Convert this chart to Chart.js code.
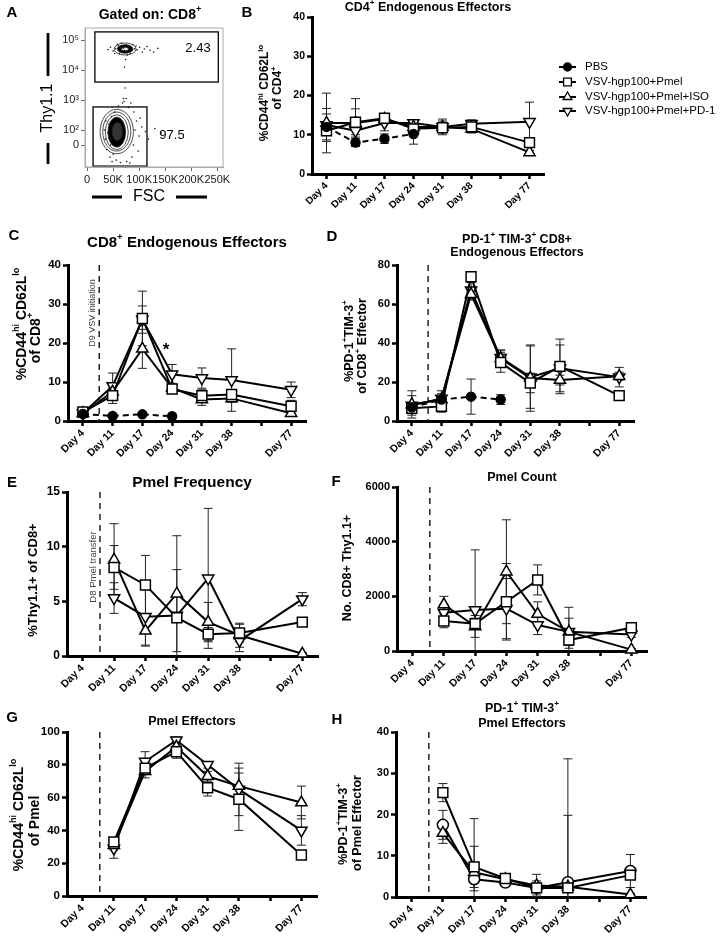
<!DOCTYPE html>
<html>
<head>
<meta charset="utf-8">
<script src="https://cdn.jsdelivr.net/npm/chart.js@4.4.1/dist/chart.umd.min.js"></script>
<style>
  body { margin: 0; background: #fff; }
  #wrap { position: relative; width: 725px; height: 940px; }
  canvas { position: absolute; left: 0; top: 0; }
</style>
</head>
<body>
<div id="wrap">
  <canvas id="cA" width="725" height="940"></canvas>
  <canvas id="cB" width="725" height="940"></canvas>
  <canvas id="cC" width="725" height="940"></canvas>
  <canvas id="cD" width="725" height="940"></canvas>
  <canvas id="cE" width="725" height="940"></canvas>
  <canvas id="cF" width="725" height="940"></canvas>
  <canvas id="cG" width="725" height="940"></canvas>
  <canvas id="cH" width="725" height="940"></canvas>
</div>
<script>
// ---- data ----
// x categories (the blank slot is the unlabeled tick between Day 38 and Day 77)
const axisLabels = ['Day 4', 'Day 11', 'Day 17', 'Day 24', 'Day 31', 'Day 38', '', 'Day 77'];
const days = ['Day 4', 'Day 11', 'Day 17', 'Day 24', 'Day 31', 'Day 38', 'Day 77'];
const legendNames = ['PBS', 'VSV-hgp100+Pmel', 'VSV-hgp100+Pmel+ISO', 'VSV-hgp100+Pmel+PD-1'];

// B: CD4+ endogenous effectors
const bPBS = [12, 8, 9, 10.2],                 bPBSErr = [3.3, 1, 1.2, 2.6];
const bPmel = [11, 13.2, 14.2, 11.5, 11.8, 12, 8],   bPmelErr = [1.2, 6, 0.8, 1, 1, 1.5, 1];
const bISO = [13, 13, 14, 12, 12, 11.5, 5.5],        bISOErr = [7.6, 3.6, 1, 1, 2, 1, 0.5];
const bPD1 = [12.5, 11, 13, 13, 12, 12.8, 13.3],     bPD1Err = [4.2, 1, 2, 0.8, 1.5, 1, 5];

// C: CD8+ endogenous effectors
const cPBS = [1.8, 1.3, 1.7, 1.2],                   cPBSErr = [0.3, 0.2, 0.3, 0.2];
const cPmel = [2.3, 6.5, 26.3, 8.2, 6.5, 6.8, 3.8],  cPmelErr = [0.8, 2, 7, 1, 1.5, 1, 1.5];
const cISO = [2.0, 7.5, 18.5, 8.5, 5.5, 5.8, 2.0],   cISOErr = [0.5, 1.5, 5, 1, 1.5, 1, 0.5];
const cPD1 = [2.0, 9.0, 26.0, 12.0, 11.0, 10.5, 8.0], cPD1Err = [0.5, 3.3, 3.5, 2.5, 2.6, 8, 2];

// D: PD-1+ TIM-3+ CD8+ endogenous effectors
const dPBS = [7, 11, 12.5, 11],                      dPBSErr = [2, 1.5, 9, 2.5];
const dPmel = [6.5, 7.5, 74, 30, 19.5, 28, 13],      dPmelErr = [1.5, 3, 2, 5, 5, 14, 1];
const dISO = [8.5, 11, 65, 32, 22, 21, 23],          dISOErr = [7, 3, 3, 4, 17, 2.5, 2];
const dPD1 = [8, 11.5, 67, 32.5, 22.5, 27, 22.5],    dPD1Err = [5, 4, 4, 4, 16, 12, 5];

// E: Pmel frequency
const ePmel = [null, 8.1, 6.5, 3.5, 2.0, 2.1, 3.1],  ePmelErr = [0, 2, 2.7, 0.4, 0.6, 0.8, 0.2];
const eISO = [null, 8.8, 2.3, 5.7, 3.1, 1.9, 0.2],   eISOErr = [0, 3.3, 1.3, 5.3, 1.8, 1.1, 0.1];
const ePD1 = [null, 5.3, 3.6, 3.7, 7.1, 1.4, 5.2],   ePD1Err = [0, 1.4, 2.7, 4.2, 6.4, 1, 0.6];

// F: Pmel count
const fPmel = [null, 1100, 1000, 1800, 2600, 400, 850], fPmelErr = [0, 250, 200, 1400, 550, 300, 100];
const fISO = [null, 1700, 900, 2900, 1350, 700, 50],    fISOErr = [0, 300, 400, 1900, 450, 500, 30];
const fPD1 = [null, 1400, 1500, 1550, 950, 700, 600],   fPD1Err = [0, 300, 2200, 1100, 350, 900, 100];

// G: Pmel effectors
const gPmel = [null, 33, 78, 88, 66, 59, 25],        gPmelErr = [0, 2, 4, 4, 5, 19, 1];
const gISO = [null, 31, 76, 91, 73, 67, 57],         gISOErr = [0, 3, 4, 3, 3, 8, 10];
const gPD1 = [null, 29, 82, 95, 80, 65, 40],         gPD1Err = [0, 6, 6, 2, 2, 16, 9];

// H: PD-1+ TIM-3+ Pmel effectors
const hPmel = [null, 25.3, 7.3, 4.5, 2.2, 2.2, 5.3], hPmelErr = [0, 2.2, 5, 1, 1, 1, 1];
const hISO = [null, 15.5, 6.0, 4.3, 2.8, 2.5, 0.6],  hISOErr = [0, 2.5, 13, 0.8, 2.7, 31, 0.3];
const hPD1 = [null, 17.5, 4.3, 3.5, 2.2, 3.6, 6.3],  hPD1Err = [0, 3.5, 2.8, 0.6, 1.7, 16.2, 4];

// A: flow plot (FSC in K, Thy1.1 in display decades; 1.5 = "0")
const fscTicks = [0, 50, 100, 150, 200, 250];
const thyTicks = [1.5, 2, 3, 4, 5];
const thyTickLabels = ['0', '10²', '10³', '10⁴', '10⁵'];
const thyHiDots = [[60,4.8],[64,4.76],[70,4.73],[72,4.66],[79,4.7],[81,4.79],[86,4.64],[67,4.6],[75,4.83],[91,4.71],
  [96,4.67],[55,4.71],[50,4.63],[101,4.76],[110,4.7],[121,4.66],[62,4.55],[83,4.55],[58,4.86],[88,4.85],[106,4.6],
  [45,4.76],[136,4.72],[77,4.5],[66,4.9],[94,4.8],[53,4.55],[115,4.78],[74,4.35],[72,4.1],[73,3.4],[75,3.05],[71,2.95],
  [40,4.68],[128,4.6]];
const thyLoDots = [[40,1.9],[42,2.2],[45,1.5],[47,2.45],[50,1.2],[53,2.6],[56,1.0],[86,1.1],[89,1.5],[92,2.0],[95,2.3],
  [90,2.6],[80,2.75],[60,2.8],[68,2.9],[35,1.7],[100,1.8],[105,2.1],[38,1.35],[98,1.3],[112,1.95],[130,2.05],[64,0.92],
  [76,0.95],[70,3.05],[33,2.0],[44,1.1],[84,2.9],[102,2.4],[48,0.95],[82,0.9],[118,1.7],[36,2.3],[142,1.9]];
// gates: [fscMin, fscMax, thyMin, thyMax], with gate frequencies
const gateHi = [15, 252, 3.6, 5.27], gateHiPct = '2.43';
const gateLo = [11.5, 115, 0.8, 2.77], gateLoPct = '97.5';
// contour levels: [cx, cy, rx, ry, fill]
const contours = [
  [57, 1.95, 32, 0.74, ''], [57, 1.95, 27, 0.65, ''], [57, 1.93, 22, 0.58, ''], [57, 1.93, 17, 0.5, '#000'],
  [58, 1.95, 10, 0.3, '#333'],
  [73, 4.7, 21, 0.2, ''], [73, 4.7, 15, 0.14, '#000'], [73, 4.7, 7, 0.06, '#fff']
];

// ---- setup ----
const FONT = 'Arial, "Liberation Sans", Helvetica, sans-serif';
Chart.defaults.font.family = FONT;
Chart.defaults.color = '#000';
const W = 725, H = 940, YW = 45, XH = 42;

const styles = {
  pbs:  { pointStyle: 'circle', pointRadius: 4.5, pointBackgroundColor: '#000', borderDash: [6, 4] },
  pmel: { pointStyle: 'rect', pointRadius: 7, pointBackgroundColor: '#fff' },
  iso:  { pointStyle: 'triangle', pointRadius: 6.5, pointBackgroundColor: '#fff' },
  pd1:  { pointStyle: 'triangle', pointRotation: 180, pointRadius: 6.5, pointBackgroundColor: '#fff' },
  circ: { pointStyle: 'circle', pointRadius: 5.5, pointBackgroundColor: '#fff' }
};

function series(vals, errs, style) {
  return Object.assign({
    data: vals.map((v, i) => ({ x: days[i], y: v })),
    errs: errs,
    borderColor: '#000', borderWidth: 2,
    pointBorderColor: '#000', pointBorderWidth: 1.5,
    tension: 0, spanGaps: true, clip: false
  }, styles[style]);
}

// text with ^{...} superscripts
function drawRich(ctx, str, x, y, size, bold, rot, color, align) {
  const parts = [];
  const re = /\^\{([^}]*)\}/g;
  let last = 0, m;
  while ((m = re.exec(str))) {
    if (m.index > last) parts.push({ t: str.slice(last, m.index), sup: false });
    parts.push({ t: m[1], sup: true });
    last = re.lastIndex;
  }
  if (last < str.length) parts.push({ t: str.slice(last), sup: false });
  const f = s => (bold ? 'bold ' : '') + s + 'px ' + FONT;
  ctx.save();
  ctx.translate(x, y);
  if (rot) ctx.rotate(rot * Math.PI / 180);
  let w = 0;
  parts.forEach(p => { ctx.font = f(p.sup ? size * 0.65 : size); p.w = ctx.measureText(p.t).width; w += p.w; });
  let cx = align === 'left' ? 0 : align === 'right' ? -w : -w / 2;
  ctx.textBaseline = 'middle';
  ctx.textAlign = 'left';
  ctx.fillStyle = color || '#000';
  parts.forEach(p => {
    ctx.font = f(p.sup ? size * 0.65 : size);
    ctx.fillText(p.t, cx, p.sup ? -size * 0.38 : 0);
    cx += p.w;
  });
  ctx.restore();
}

const errorBars = {
  id: 'errorBars',
  beforeDatasetsDraw(chart) {
    const { ctx, chartArea: a } = chart;
    const y = chart.scales.y;
    ctx.save();
    ctx.beginPath();
    ctx.rect(a.left, 0, a.right - a.left + 20, a.bottom);
    ctx.clip();
    ctx.strokeStyle = '#222';
    ctx.lineWidth = 1;
    chart.data.datasets.forEach((ds, di) => {
      if (!ds.errs) return;
      chart.getDatasetMeta(di).data.forEach((pt, i) => {
        const v = ds.data[i].y, e = ds.errs[i];
        if (v == null || !e) return;
        const x = pt.x, yt = y.getPixelForValue(v + e), yb = y.getPixelForValue(v - e);
        ctx.beginPath();
        ctx.moveTo(x, yb); ctx.lineTo(x, yt);
        ctx.moveTo(x - 4.5, yt); ctx.lineTo(x + 4.5, yt);
        if (v - e > 0) { ctx.moveTo(x - 4.5, yb); ctx.lineTo(x + 4.5, yb); }
        ctx.stroke();
      });
    });
    ctx.restore();
  }
};
Chart.register(errorBars);

function deco(cfg) {
  return {
    id: 'deco',
    beforeDatasetsDraw(chart) {
      if (cfg.under) cfg.under(chart);
      if (cfg.vline == null) return;
      const { ctx, chartArea: a } = chart;
      const x = chart.scales.x.getPixelForValue(cfg.vline);
      ctx.save();
      ctx.setLineDash([6, 5]);
      ctx.lineWidth = 1.5;
      ctx.strokeStyle = '#222';
      ctx.beginPath(); ctx.moveTo(x, a.top); ctx.lineTo(x, a.bottom); ctx.stroke();
      ctx.restore();
    },
    afterDraw(chart) {
      (cfg.texts || []).forEach(t => drawRich(chart.ctx, ...t));
      if (cfg.extra) cfg.extra(chart);
    }
  };
}

function xAxis(size) {
  return {
    type: 'category', offset: true,
    grid: { display: true, drawOnChartArea: false, drawTicks: true, tickLength: 5, tickWidth: 2.5, tickColor: '#000', offset: false },
    border: { display: true, color: '#000', width: 3 },
    ticks: { autoSkip: false, minRotation: 45, maxRotation: 45, padding: 1, color: '#000', font: { size: size, weight: 'bold' } },
    afterFit(s) { s.height = XH; s.paddingLeft = 0; s.paddingRight = 0; }
  };
}
function yAxis(max, step, size) {
  return {
    type: 'linear', min: 0, max: max,
    ticks: { stepSize: step, color: '#000', padding: 2, font: { size: size, weight: 'bold' }, callback: v => String(v) },
    grid: { display: true, drawOnChartArea: false, tickLength: 5, tickWidth: 2.5, tickColor: '#000' },
    border: { color: '#000', width: 3 },
    afterFit(s) { s.width = YW; s.paddingTop = 0; s.paddingBottom = 0; }
  };
}

function lineChart(id, area, cfg) {
  return new Chart(document.getElementById(id), {
    type: 'line',
    data: { labels: axisLabels, datasets: cfg.sets },
    options: {
      responsive: false, animation: false, events: [],
      layout: { autoPadding: false, padding: { left: area[0] - YW, top: area[1], right: W - area[2], bottom: H - area[3] - XH } },
      plugins: { legend: { display: false }, tooltip: { enabled: false } },
      scales: { x: xAxis(cfg.xFont || 10.5), y: yAxis(cfg.max, cfg.step, cfg.yFont || 11) }
    },
    plugins: [deco(cfg)]
  });
}

const vsvDay = 0.55; // dashed marker between Day 4 and Day 11

// ---- A: flow plot ----
function drawFlow(chart) {
  const { ctx, chartArea: a } = chart;
  const sx = chart.scales.x, sy = chart.scales.y;
  ctx.save();
  contours.forEach(c => {
    const cx = sx.getPixelForValue(c[0]), cy = sy.getPixelForValue(c[1]);
    const rx = Math.abs(sx.getPixelForValue(c[0] + c[2]) - cx), ry = Math.abs(sy.getPixelForValue(c[1] + c[3]) - cy);
    ctx.beginPath();
    ctx.ellipse(cx, cy, rx, ry, 0, 0, Math.PI * 2);
    if (c[4]) { ctx.fillStyle = c[4]; ctx.fill(); }
    ctx.strokeStyle = '#222'; ctx.lineWidth = 0.8; ctx.stroke();
  });
  ctx.strokeStyle = '#000'; ctx.lineWidth = 1.3;
  [gateHi, gateLo].forEach(g => {
    const x0 = sx.getPixelForValue(g[0]), x1 = sx.getPixelForValue(g[1]);
    const y0 = sy.getPixelForValue(g[3]), y1 = sy.getPixelForValue(g[2]);
    ctx.strokeRect(x0, y0, x1 - x0, y1 - y0);
  });
  ctx.strokeStyle = '#aaa'; ctx.lineWidth = 1;
  ctx.strokeRect(a.left, a.top, a.right - a.left, a.bottom - a.top);
  ctx.restore();
}
function drawFlowFrame(chart) {
  const ctx = chart.ctx;
  ctx.save();
  ctx.strokeStyle = '#000'; ctx.lineWidth = 2.8;
  ctx.beginPath();
  ctx.moveTo(48, 33); ctx.lineTo(48, 76);
  ctx.moveTo(48, 143); ctx.lineTo(48, 164);
  ctx.moveTo(92, 197); ctx.lineTo(122, 197);
  ctx.moveTo(176, 197); ctx.lineTo(207, 197);
  ctx.stroke();
  ctx.restore();
}

new Chart(document.getElementById('cA'), {
  type: 'scatter',
  data: {
    datasets: [{
      data: thyHiDots.concat(thyLoDots).map(p => ({ x: p[0], y: p[1] })),
      pointRadius: 0.8, pointBackgroundColor: '#111', pointBorderWidth: 0
    }]
  },
  options: {
    responsive: false, animation: false, events: [],
    layout: { autoPadding: false, padding: { left: 85 - 30, top: 28, right: W - 223, bottom: H - 167 - 22 } },
    plugins: { legend: { display: false }, tooltip: { enabled: false } },
    scales: {
      x: {
        type: 'linear', min: -4, max: 261,
        afterBuildTicks(s) { s.ticks = fscTicks.map(v => ({ value: v })); },
        ticks: { autoSkip: false, minRotation: 0, maxRotation: 0, padding: 2, color: '#222', font: { size: 11 },
                 callback: v => (v === 0 ? '0' : v + 'K') },
        grid: { drawOnChartArea: false, tickLength: 4, tickColor: '#666', tickWidth: 1 },
        border: { color: '#aaa', width: 1 },
        afterFit(s) { s.height = 22; s.paddingLeft = 0; s.paddingRight = 0; }
      },
      y: {
        type: 'linear', min: 0.77, max: 5.4,
        afterBuildTicks(s) { s.ticks = thyTicks.map(v => ({ value: v })); },
        ticks: { autoSkip: false, padding: 2, color: '#222', font: { size: 11 },
                 callback: (v, i) => thyTickLabels[i] },
        grid: { drawOnChartArea: false, tickLength: 4, tickColor: '#666', tickWidth: 1 },
        border: { color: '#aaa', width: 1 },
        afterFit(s) { s.width = 30; s.paddingTop = 0; s.paddingBottom = 0; }
      }
    }
  },
  plugins: [deco({
    under: drawFlow,
    extra: drawFlowFrame,
    texts: [
      ['A', 12, 13, 15, true],
      ['Gated on: CD8^{+}', 150, 15, 14, true],
      [gateHiPct, 198, 48, 13, false],
      [gateLoPct, 172, 135, 13, false],
      ['Thy1.1', 48, 108, 16, false, -90],
      ['FSC', 149, 197, 16, false]
    ]
  })]
});

// ---- B ----
function drawLegend(chart) {
  const ctx = chart.ctx;
  const rows = [67, 82, 97, 111];
  const marks = [
    { pointStyle: 'circle', radius: 4, fill: '#000' },
    { pointStyle: 'rect', radius: 5.5, fill: '#fff' },
    { pointStyle: 'triangle', radius: 5, fill: '#fff' },
    { pointStyle: 'triangle', radius: 5, rotation: 180, fill: '#fff' }
  ];
  legendNames.forEach((name, i) => {
    const y = rows[i];
    ctx.save();
    ctx.strokeStyle = '#000'; ctx.lineWidth = 2;
    ctx.beginPath(); ctx.moveTo(559, y); ctx.lineTo(576, y); ctx.stroke();
    ctx.fillStyle = marks[i].fill; ctx.lineWidth = 1.3;
    Chart.helpers.drawPoint(ctx, { pointStyle: marks[i].pointStyle, radius: marks[i].radius, rotation: marks[i].rotation || 0, borderWidth: 1.3 }, 567.5, y);
    ctx.restore();
    drawRich(ctx, name, 585, y, 11.5, false, 0, '#000', 'left');
  });
}

lineChart('cB', [312, 17, 544, 174], {
  max: 40, step: 10, yFont: 10.5, xFont: 10,
  sets: [series(bPBS, bPBSErr, 'pbs'), series(bPmel, bPmelErr, 'pmel'), series(bISO, bISOErr, 'iso'), series(bPD1, bPD1Err, 'pd1')],
  extra: drawLegend,
  texts: [
    ['B', 247, 13, 15, true],
    ['CD4^{+} Endogenous Effectors', 428, 8, 12.5, true],
    ['%CD44^{hi} CD62L^{lo}', 265, 93, 12, true, -90],
    ['of CD4^{+}', 278, 88, 12, true, -90]
  ]
});

// ---- C ----
lineChart('cC', [68, 265, 306, 421], {
  max: 40, step: 10, yFont: 11.5, vline: vsvDay,
  sets: [series(cPBS, cPBSErr, 'pbs'), series(cPmel, cPmelErr, 'pmel'), series(cISO, cISOErr, 'iso'), series(cPD1, cPD1Err, 'pd1')],
  texts: [
    ['C', 14, 236, 15, true],
    ['CD8^{+} Endogenous Effectors', 187, 243, 15, true],
    ['%CD44^{hi} CD62L^{lo}', 22, 324, 14, true, -90],
    ['of CD8^{+}', 36, 338, 14, true, -90],
    ['D9 VSV initiation', 93, 313, 9, false, -90, '#444'],
    ['*', 166, 350, 17, true]
  ]
});

// ---- D ----
lineChart('cD', [397, 265, 634, 421], {
  max: 80, step: 20, yFont: 11, vline: vsvDay,
  sets: [series(dPBS, dPBSErr, 'pbs'), series(dPmel, dPmelErr, 'pmel'), series(dISO, dISOErr, 'iso'), series(dPD1, dPD1Err, 'pd1')],
  texts: [
    ['D', 332, 237, 15, true],
    ['PD-1^{+} TIM-3^{+} CD8+', 517, 240, 12.5, true],
    ['Endogenous Effectors', 517, 253, 12.5, true],
    ['%PD-1^{+}TIM-3^{+}', 350, 341, 12.5, true, -90],
    ['of CD8^{+} Effector', 363, 346, 12.5, true, -90]
  ]
});

// ---- E ----
lineChart('cE', [67, 492, 318, 656], {
  max: 15, step: 5, yFont: 12, vline: vsvDay,
  sets: [series(ePmel, ePmelErr, 'pmel'), series(eISO, eISOErr, 'iso'), series(ePD1, ePD1Err, 'pd1')],
  texts: [
    ['E', 12, 483, 15, true],
    ['Pmel Frequency', 192, 483, 15.5, true],
    ['%Thy1.1+ of CD8+', 33, 580, 13, true, -90],
    ['D8 Pmel transfer', 93, 567, 9.5, false, -90, '#444']
  ]
});

// ---- F ----
lineChart('cF', [397, 487, 647, 651], {
  max: 6000, step: 2000, yFont: 11, vline: vsvDay,
  sets: [series(fPmel, fPmelErr, 'pmel'), series(fISO, fISOErr, 'iso'), series(fPD1, fPD1Err, 'pd1')],
  texts: [
    ['F', 336, 482, 15, true],
    ['Pmel Count', 522, 478, 12.5, true],
    ['No. CD8+ Thy1.1+', 348, 568, 12.5, true, -90]
  ]
});

// ---- G ----
lineChart('cG', [67, 732, 317, 896], {
  max: 100, step: 20, yFont: 11.5, vline: vsvDay,
  sets: [series(gPmel, gPmelErr, 'pmel'), series(gISO, gISOErr, 'iso'), series(gPD1, gPD1Err, 'pd1')],
  texts: [
    ['G', 12, 718, 15, true],
    ['Pmel Effectors', 192, 722, 12.5, true],
    ['%CD44^{hi} CD62L^{lo}', 19, 815, 14, true, -90],
    ['of Pmel', 35, 821, 14, true, -90]
  ]
});

// ---- H ----
lineChart('cH', [396, 732, 646, 897], {
  max: 40, step: 10, yFont: 11, vline: vsvDay,
  sets: [series(hPmel, hPmelErr, 'pmel'), series(hISO, hISOErr, 'iso'), series(hPD1, hPD1Err, 'circ')],
  texts: [
    ['H', 337, 720, 15, true],
    ['PD-1^{+} TIM-3^{+}', 522, 709, 12.5, true],
    ['Pmel Effectors', 522, 724, 12.5, true],
    ['%PD-1^{+}TIM-3^{+}', 344, 824, 12.5, true, -90],
    ['of Pmel Effector', 358, 823, 12.5, true, -90]
  ]
});
</script>
</body>
</html>
